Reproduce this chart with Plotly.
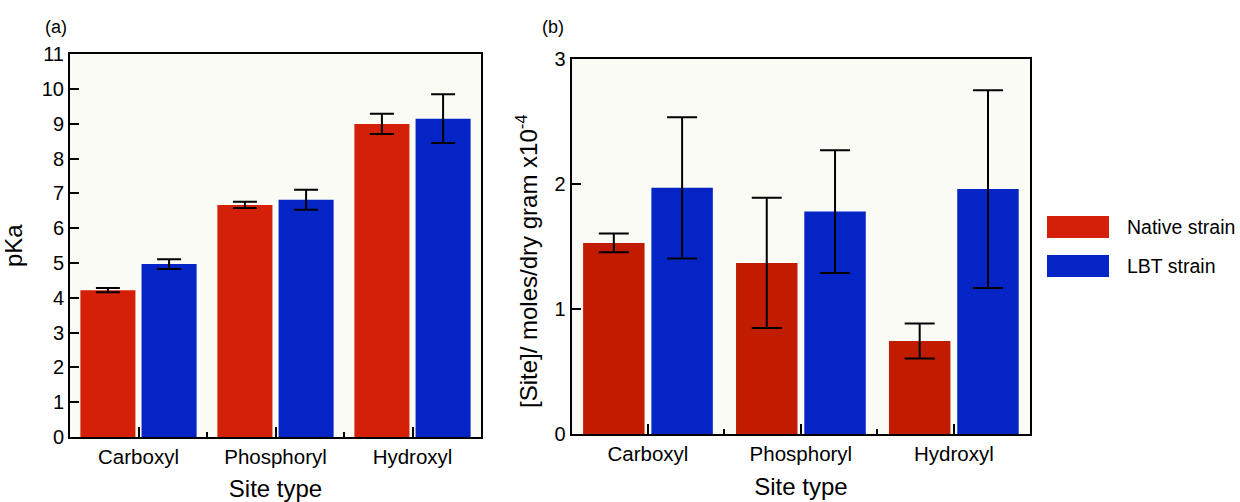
import plotly.graph_objects as go

# ---------------- data ----------------
categories = ["Carboxyl", "Phosphoryl", "Hydroxyl"]
series_names = ["Native strain", "LBT strain"]

pka_native = [4.22, 6.67, 9.00]
pka_native_err = [0.06, 0.09, 0.29]
pka_lbt = [4.97, 6.82, 9.15]
pka_lbt_err = [0.14, 0.29, 0.70]

site_native = [1.53, 1.37, 0.745]
site_native_err = [0.075, 0.52, 0.14]
site_lbt = [1.97, 1.78, 1.96]
site_lbt_err = [0.565, 0.49, 0.79]

pka_ticks = list(range(0, 12))
site_ticks = [0, 1, 2, 3]

# ---------------- style ----------------
FONT = "Liberation Sans, Arial, Helvetica, sans-serif"
RED_A = "#d42009"
RED_B = "#c11b00"
BLUE = "#0424c6"
BG = "#f9fbf4"
W, H = 1240, 502

xpos = list(range(len(categories)))
boundaries = [i + 0.5 for i in xpos[:-1]]

fig = go.Figure()


def add_bars(xa, ya, vals, errs, color, name, width):
    fig.add_trace(go.Bar(
        x=xpos, y=vals, name=name, marker=dict(color=color, line=dict(width=0)),
        error_y=dict(type="data", array=errs, visible=True, color="black",
                     thickness=2, width=width),
        xaxis=xa, yaxis=ya, showlegend=False, offsetgroup=name,
    ))


add_bars("x", "y", pka_native, pka_native_err, RED_A, series_names[0], 12)
add_bars("x", "y", pka_lbt, pka_lbt_err, BLUE, series_names[1], 12)
add_bars("x2", "y2", site_native, site_native_err, RED_B, series_names[0], 15)
add_bars("x2", "y2", site_lbt, site_lbt_err, BLUE, series_names[1], 15)


def px_x(p):
    return p / W


def px_y(p):
    return (H - p) / H


common_x = dict(
    range=[-0.5, len(categories) - 0.5], tickmode="array", tickvals=xpos,
    ticktext=categories, ticks="inside", ticklen=10, tickwidth=2, tickcolor="black",
    showline=True, linecolor="black", linewidth=2, mirror=True, showgrid=False,
    zeroline=False, tickfont=dict(size=20.5, color="black", family=FONT),
    minor=dict(tickmode="array", tickvals=boundaries, ticks="inside", ticklen=5,
               tickwidth=2, tickcolor="black", showgrid=False),
    title=dict(text="Site type", font=dict(size=24, color="black", family=FONT), standoff=14),
    fixedrange=True, automargin=False,
)
common_y = dict(
    ticks="inside", ticklen=9, tickwidth=2, tickcolor="black", showline=True,
    linecolor="black", linewidth=2, mirror=True, showgrid=False, zeroline=False,
    tickfont=dict(size=20, color="black", family=FONT), fixedrange=True,
    automargin=False,
)

fig.update_layout(
    template="none",
    width=W, height=H, margin=dict(l=0, r=0, t=0, b=0, pad=0),
    paper_bgcolor="white", plot_bgcolor=BG,
    barmode="group", bargap=0.107, bargroupgap=0.1,
    font=dict(family=FONT, color="black"),
    showlegend=False,
    xaxis=dict(domain=[px_x(70), px_x(481)], anchor="y", **common_x),
    yaxis=dict(domain=[px_y(437), px_y(54.3)], anchor="x", range=[0, 11],
               tickmode="array", tickvals=pka_ticks,
               title=dict(text="pKa", font=dict(size=24, color="black", family=FONT), standoff=14),
               **common_y),
    xaxis2=dict(domain=[px_x(571.5), px_x(1030.3)], anchor="y2", **common_x),
    yaxis2=dict(domain=[px_y(434.3), px_y(59)], anchor="x2", range=[0, 3],
                tickmode="array", tickvals=site_ticks, **common_y),
)

# y title of panel (b), placed as rotated text
fig.add_annotation(text="[Site]/ moles/dry gram x10<sup>-4</sup>", x=px_x(527), y=px_y(261),
                   xref="paper", yref="paper", xanchor="center", yanchor="middle",
                   textangle=-90, showarrow=False,
                   font=dict(size=24, color="black", family=FONT))

# panel labels
fig.add_annotation(text="(a)", x=px_x(43), y=px_y(27), xref="paper", yref="paper",
                   xanchor="left", yanchor="middle", showarrow=False,
                   font=dict(size=18, color="black", family=FONT))
fig.add_annotation(text="(b)", x=px_x(540), y=px_y(27), xref="paper", yref="paper",
                   xanchor="left", yanchor="middle", showarrow=False,
                   font=dict(size=18, color="black", family=FONT))

# legend (drawn manually to get large swatches)
legend_colors = [RED_A, BLUE]
legend_rows = [(216, 238), (255, 277)]
for name, col, (y0, y1) in zip(series_names, legend_colors, legend_rows):
    fig.add_shape(type="rect", xref="paper", yref="paper",
                  x0=px_x(1047), x1=px_x(1109), y0=px_y(y1), y1=px_y(y0),
                  fillcolor=col, line=dict(width=0))
    fig.add_annotation(text=name, x=px_x(1125), y=px_y((y0 + y1) / 2), xref="paper",
                       yref="paper", xanchor="left", yanchor="middle", showarrow=False,
                       font=dict(size=19.5, color="black", family=FONT))

fig.write_html("out.html")
